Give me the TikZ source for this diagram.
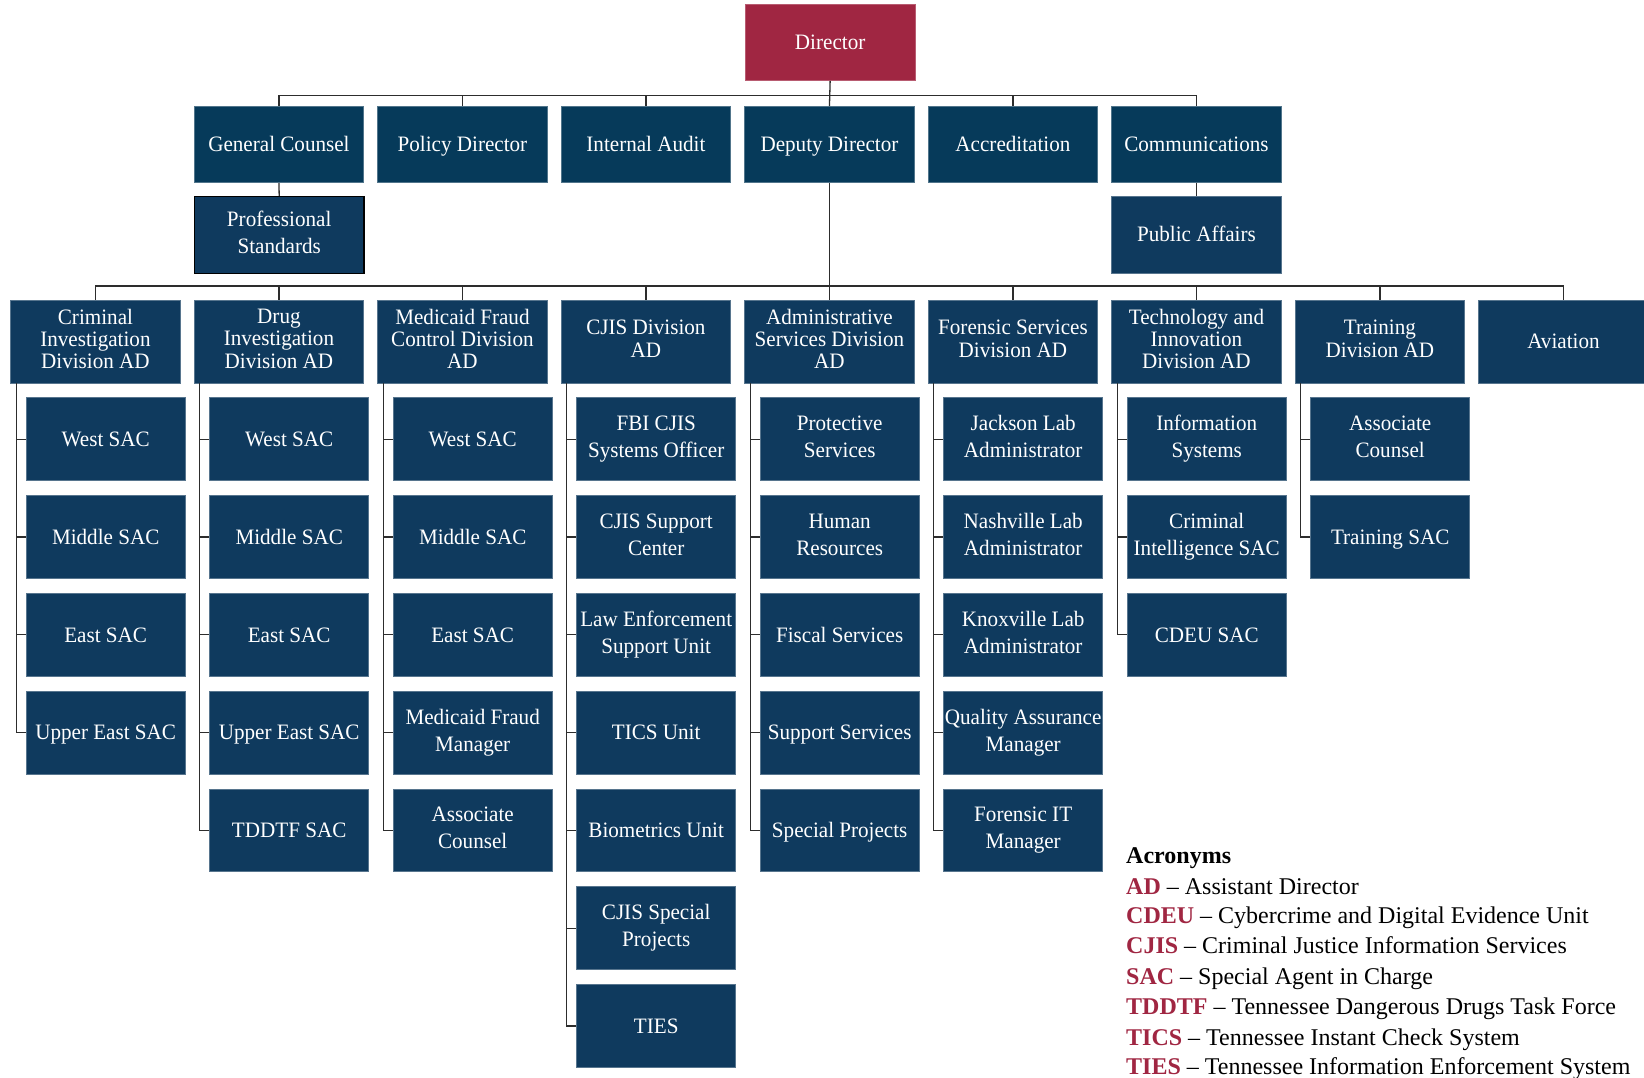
\documentclass[tikz,border=0pt]{standalone}
\usepackage{fontspec}
\setmainfont{Liberation Serif}
\newfontfamily\boxfont[FakeStretch=0.96]{Liberation Serif}
\definecolor{dirred}{RGB}{160,38,66}
\definecolor{navytop}{RGB}{6,58,90}
\definecolor{navy}{RGB}{15,58,94}
\definecolor{rulegray}{RGB}{45,45,45}
% strut that centres capitals in a box
\newcommand\capstrut{\rule[-5.4pt]{0pt}{25.4pt}}
\tikzset{
  orgbox/.style={rectangle, anchor=north west, text=white, align=center,
    inner sep=1pt, minimum width=169.5pt, line width=0.8pt,
    font=\boxfont\fontsize{22}{27}\selectfont,
    execute at begin node=\capstrut, execute at end node=\capstrut},
  dirbox/.style={orgbox, fill=dirred, draw=dirred!75!white, minimum height=76pt},
  topbox/.style={orgbox, fill=navytop, draw=navytop!70!white, minimum height=76.4pt},
  divbox/.style={orgbox, fill=navy, draw=navy!70!white, minimum height=83pt,
    font=\boxfont\fontsize{22}{22.3}\selectfont},
  subbox/.style={orgbox, fill=navy, draw=navy!70!white, minimum width=159pt,
    minimum height=82.8pt},
  conn/.style={draw=rulegray, line width=1.3pt},
  legend/.style={anchor=base west, inner sep=0pt, font=\fontsize{24}{30}\selectfont}
}
% column left edges: 10.3 + 183.5*i
\newcommand\orgcolumn[3]{%
  \coordinate (#2t) at ([xshift=6pt]#2.south west);
  \foreach [count=\k] \t in {#3} {
    \node[subbox] (#2\k) at ({10.3+183.5*#1+15.5}, {397.4+97.8*(\k-1)}) {\t};
    \draw[conn] (#2t) |- (#2\k.west);
  }
}
\begin{document}
\begin{tikzpicture}[x=1pt, y=-1pt]
\useasboundingbox (0,0) rectangle (1644,1078);
\fill[white] (0,0) rectangle (1644,1078);
\clip (0,0) rectangle (1644,1078);

% top level
\node[dirbox] (dir) at (745,4) {Director};
\node[topbox] (gc)  at ({10.3+183.5*1},106) {General Counsel};
\node[topbox] (pol) at ({10.3+183.5*2},106) {Policy Director};
\node[topbox] (aud) at ({10.3+183.5*3},106) {Internal Audit};
\node[topbox] (dep) at ({10.3+183.5*4},106) {Deputy Director};
\node[topbox] (acc) at ({10.3+183.5*5},106) {Accreditation};
\node[topbox] (com) at ({10.3+183.5*6},106) {Communications};
\node[subbox, minimum width=169.5pt, minimum height=76.6pt, draw=black, line width=1.3pt]
  (ps) at ({10.3+183.5*1},196) {Professional\\Standards};
\node[subbox, minimum width=169.5pt, minimum height=76.6pt]
  (pa) at ({10.3+183.5*6},196) {Public Affairs};

\coordinate (busA) at (0,95.4);
\coordinate (busB) at (0,286);
\draw[conn] (dir.south) -- (dep.north);
\draw[conn] (gc.north) -- (gc.north |- busA) -- (com.north |- busA) -- (com.north);
\foreach \n in {pol,aud,acc} \draw[conn] (\n.north) -- (\n.north |- busA);
\draw[conn] (gc.south) -- (ps.north);
\draw[conn] (com.south) -- (pa.north);

% divisions
\node[divbox] (cid) at ({10.3+183.5*0},299.5) {Criminal\\Investigation\\Division AD};
\node[divbox] (did) at ({10.3+183.5*1},299.5) {Drug\\Investigation\\Division AD};
\node[divbox] (mfc) at ({10.3+183.5*2},299.5) {Medicaid Fraud\\Control Division\\AD};
\node[divbox] (cjd) at ({10.3+183.5*3},299.5) {CJIS Division\\AD};
\node[divbox] (asd) at ({10.3+183.5*4},299.5) {Administrative\\Services Division\\AD};
\node[divbox] (fsd) at ({10.3+183.5*5},299.5) {Forensic Services\\Division AD};
\node[divbox] (tid) at ({10.3+183.5*6},299.5) {Technology and\\Innovation\\Division AD};
\node[divbox] (trn) at ({10.3+183.5*7},299.5) {Training\\Division AD};
\node[divbox] (avi) at ({10.3+183.5*8},299.5) {Aviation};

\draw[conn] (dep.south) -- (dep.south |- busB);
\draw[conn] (cid.north) -- (cid.north |- busB) -- (avi.north |- busB) -- (avi.north);
\foreach \n in {did,mfc,cjd,asd,fsd,tid,trn} \draw[conn] (\n.north) -- (\n.north |- busB);

% units under each division
\orgcolumn{0}{cid}{{West SAC},{Middle SAC},{East SAC},{Upper East SAC}}
\orgcolumn{1}{did}{{West SAC},{Middle SAC},{East SAC},{Upper East SAC},{TDDTF SAC}}
\orgcolumn{2}{mfc}{{West SAC},{Middle SAC},{East SAC},{Medicaid Fraud\\Manager},{Associate\\Counsel}}
\orgcolumn{3}{cjd}{{FBI CJIS\\Systems Officer},{CJIS Support\\Center},{Law Enforcement\\Support Unit},{TICS Unit},{Biometrics Unit},{CJIS Special\\Projects},{TIES}}
\orgcolumn{4}{asd}{{Protective\\Services},{Human\\Resources},{Fiscal Services},{Support Services},{Special Projects}}
\orgcolumn{5}{fsd}{{Jackson Lab\\Administrator},{Nashville Lab\\Administrator},{Knoxville Lab\\Administrator},{Quality Assurance\\Manager},{Forensic IT\\Manager}}
\orgcolumn{6}{tid}{{Information\\Systems},{Criminal\\Intelligence SAC},{CDEU SAC}}
\orgcolumn{7}{trn}{{Associate\\Counsel},{Training SAC}}

% acronym legend
\node[legend, font=\fontsize{24}{30}\selectfont\bfseries] (lg0) at (1126,863.6) {Acronyms};
\node[legend] (lg1) at (1126,894) {\textcolor{dirred}{\bfseries AD} -- Assistant Director};
\node[legend] (lg2) at (1126,923.3) {\textcolor{dirred}{\bfseries CDEU} -- Cybercrime and Digital Evidence Unit};
\node[legend] (lg3) at (1126,953.7) {\textcolor{dirred}{\bfseries CJIS} -- Criminal Justice Information Services};
\node[legend] (lg4) at (1126,984.2) {\textcolor{dirred}{\bfseries SAC} -- Special Agent in Charge};
\node[legend] (lg5) at (1126,1014.6) {\textcolor{dirred}{\bfseries TDDTF} -- Tennessee Dangerous Drugs Task Force};
\node[legend] (lg6) at (1126,1045) {\textcolor{dirred}{\bfseries TICS} -- Tennessee Instant Check System};
\node[legend] (lg7) at (1126,1074.3) {\textcolor{dirred}{\bfseries TIES} -- Tennessee Information Enforcement System};
\end{tikzpicture}
\end{document}
